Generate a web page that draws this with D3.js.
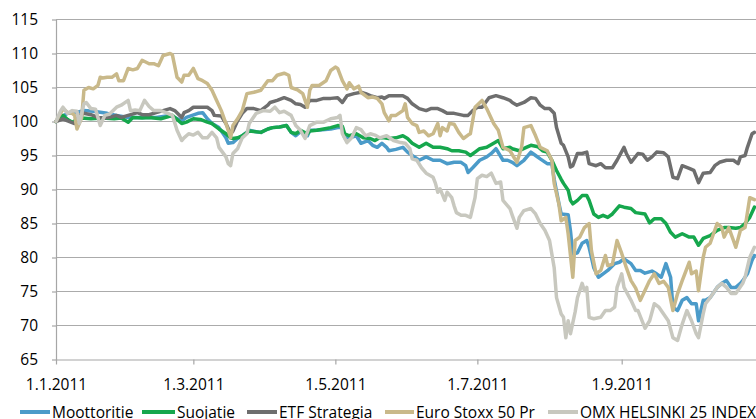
<!DOCTYPE html>
<html><head><meta charset="utf-8">
<script src="https://cdn.jsdelivr.net/npm/d3@7"></script>
<style>body{margin:0;background:#fff}svg{display:block}</style>
</head><body>
<svg id="chart" width="756" height="419"></svg>
<script>
// ---- DATA (day offset from 1.1.2011, index value) ----
const baseDate = "2011-01-01";
const seriesNames = ["Moottoritie","Suojatie","ETF Strategia","Euro Stoxx 50 Pr","OMX HELSINKI 25 INDEX"];

const moottoritie = [[0,100],[3,100.8],[5,101.2],[8,101.3],[12,101.6],[16,101.5],[22,101.2],[26,100.9],[31,100.6],[36,100.6],[43,100.6],[49,100.9],[54,100.1],[56,100.6],[61,101.2],[63,101.3],[65,100.4],[67,99.7],[70,99.1],[73,97.6],[74,96.8],[76,96.9],[78,97.5],[80,97.9],[83,98.7],[86,98.5],[88,98.4],[91,98.9],[93,99.1],[96,99.2],[99,99.4],[101,98.4],[103,97.9],[105,98.5],[108,97.9],[109,98.7],[112,98.7],[118,98.9],[121,99.1],[123,99.1],[124,97.6],[126,97.6],[129,97.9],[131,96.8],[134,97.2],[136,96.5],[138,96.2],[140,96.8],[142,96.2],[143,95.7],[146,95.9],[149,96.2],[151,95.5],[153,95],[156,94.3],[159,94.8],[162,94.3],[165,94.3],[168,93.8],[171,94],[174,94],[176,93.5],[177,92.5],[179,93.2],[182,94.3],[185,94.8],[187,95.3],[189,96],[192,94.3],[194,94.3],[196,94],[198,93.5],[201,94.3],[204,95.5],[206,95],[208,94.5],[211,93.8],[213,93.8],[214,91.5],[216,88],[217,86.4],[220,86.3],[221,83.9],[222,80.5],[224,80.7],[226,82.1],[228,82.5],[229,81.5],[231,78.5],[233,77.1],[235,77.6],[237,78.1],[240,79.1],[242,79.3],[244,79.8],[247,79.1],[249,78.1],[251,78.1],[253,77.7],[256,78],[258,77.6],[260,77.1],[262,79.1],[264,77.1],[265,72.7],[267,72.2],[269,73.7],[271,74.1],[273,73.2],[275,73.2],[276,70.7],[278,73.7],[279,73.7],[281,74.1],[284,75.6],[286,76.2],[288,76.6],[290,75.6],[292,75.6],[294,76.2],[295,76.6],[297,77.6],[299,79.6],[300,80.3]];

const suojatie = [[0,100],[3,100.9],[5,100.3],[7,99.9],[9,100.3],[11,100.5],[15,100.4],[20,100.5],[25,100.4],[28,100.5],[31,99.9],[33,100.6],[37,100.5],[40,100.6],[45,100.4],[48,100.7],[50,100.9],[54,99.7],[56,99.9],[59,100.4],[62,100.3],[65,99.9],[67,99.7],[70,98.9],[73,98.2],[75,97.6],[76,97.5],[78,97.6],[80,97.9],[83,98.6],[88,98.4],[91,98.9],[93,99.1],[96,99.2],[99,99.4],[101,98.4],[103,98.2],[105,98.7],[108,98.2],[109,98.6],[112,98.7],[115,98.9],[118,99.1],[121,99.4],[123,99.3],[124,98.2],[126,97.9],[129,98.2],[132,97.6],[135,97.5],[137,97.2],[139,97.6],[141,97.6],[143,97.5],[146,97.6],[149,97.9],[151,97.5],[153,96.8],[156,96.2],[159,96.8],[162,96.2],[165,96.2],[168,96],[170,95.7],[173,95.7],[176,95.5],[178,95],[180,95.5],[182,96],[185,96.2],[188,96.8],[190,97.2],[192,96],[195,96.2],[196,96],[199,95.7],[202,96.2],[204,96.5],[207,96.3],[209,95.7],[211,95.5],[213,94.3],[215,92.8],[217,91.5],[218,90.9],[220,89.9],[221,88.4],[222,87.9],[224,88.4],[226,89.1],[228,89.1],[229,88.4],[231,86.4],[233,85.9],[235,86.2],[237,85.9],[239,86.4],[242,87.6],[244,87.4],[247,87.2],[249,86.6],[253,86.4],[255,85.1],[257,85.7],[260,85.7],[262,85],[264,83.7],[266,83],[269,83.5],[272,83],[274,83],[276,81.8],[278,82.8],[281,83.2],[284,84],[287,84.4],[289,84.4],[292,84.3],[294,84.4],[296,85],[298,85.9],[300,87.4]];

const etfStrategia = [[0,100],[3,100.4],[5,100.1],[8,99.7],[10,100.9],[12,101.2],[15,101],[18,100.6],[20,100.5],[23,100.6],[26,100.9],[28,100.6],[31,100.9],[35,101.3],[37,101],[40,101],[43,101.3],[46,101.6],[49,101.9],[51,101.6],[54,100.6],[55,101.3],[57,101.6],[59,102.1],[62,102.1],[65,102.1],[67,101.6],[68,100.9],[71,100.8],[73,99.7],[75,98.2],[76,98.6],[78,100.1],[80,101.2],[82,101.9],[85,101.9],[88,101.6],[89,101.9],[91,102.4],[92,102.8],[95,103.1],[98,103.5],[101,103.1],[103,102.6],[105,102.5],[107,102.1],[109,103.1],[112,103.1],[115,103.4],[118,103.4],[121,103.5],[123,102.8],[125,103.8],[128,104.1],[131,104.3],[133,104.1],[135,103.8],[138,103.5],[140,103.6],[141,103.4],[143,103.8],[146,103.8],[149,103.8],[151,103.4],[153,102.6],[156,101.9],[159,101.6],[161,101.9],[164,101.9],[166,101.6],[168,101.2],[171,101.2],[175,100.9],[177,100.9],[179,101.6],[181,102.1],[183,102.1],[186,103.5],[189,103.8],[192,103.5],[195,103.1],[196,102.8],[198,102.4],[201,102.8],[204,103.5],[206,103.4],[208,102.4],[210,101.9],[212,101.9],[214,101.2],[215,99.1],[217,96.8],[218,96.5],[220,94.8],[221,93.3],[222,93.5],[224,95.3],[226,95.3],[228,95.5],[229,93.8],[232,93.5],[234,93.8],[236,93.2],[239,93.2],[241,94.3],[244,96.2],[245,95.3],[247,94],[250,95.3],[252,95.2],[254,94.3],[256,94.8],[258,95.5],[261,95.4],[263,94.8],[265,91.8],[267,91.6],[269,93.5],[272,93.1],[274,92.8],[276,91],[278,92.4],[281,92.5],[283,93.5],[285,94],[288,94.3],[291,94.3],[293,93.8],[294,94.8],[296,95],[297,96.2],[299,98.2],[300,98.4]];

const euroStoxx = [[0,100],[3,101.9],[5,101.3],[7,101.2],[8,100.9],[9,98.9],[11,100.5],[12,104.6],[14,105],[16,104.8],[18,105.3],[19,106.5],[20,106.4],[22,106.5],[24,106.5],[26,107],[27,106],[29,106],[31,107.8],[33,107.6],[35,107.8],[37,109],[40,108.5],[42,108.5],[44,108.2],[46,109.7],[49,110],[50,109.8],[52,106.5],[54,105.8],[55,106.8],[57,106.8],[59,107.8],[61,106.3],[63,106],[65,105.6],[67,104.6],[69,103.1],[71,101.6],[73,99.7],[75,97.6],[76,99.4],[78,100.4],[80,101.6],[82,104.1],[85,104.3],[88,104.6],[91,106],[93,106],[95,106.8],[98,107.1],[100,106.8],[101,105],[104,104.6],[106,104.1],[107,103.1],[108,102.1],[109,104.6],[110,105.3],[113,105.3],[116,106],[118,107.5],[120,108],[121,107.8],[123,106],[125,104.8],[126,105.7],[128,104.8],[130,105.2],[131,104.3],[134,103.5],[136,103.6],[138,103.4],[140,102.6],[141,101.3],[143,100.1],[144,100.9],[146,100.9],[149,101.6],[150,102.6],[151,100.6],[153,99.7],[155,99.4],[156,98.4],[158,98.6],[160,97.9],[162,98.2],[164,99.7],[165,97.9],[166,99.1],[168,98.6],[169,99.7],[171,99.6],[173,98.4],[175,97.5],[177,98],[178,98.2],[180,102.1],[183,103.1],[185,101.9],[188,99.7],[190,98.7],[192,96.2],[195,95.7],[198,94],[200,96.2],[201,99.1],[204,99.4],[206,97.9],[208,96.2],[211,95.7],[213,94.3],[214,90.9],[216,87.9],[217,85.4],[219,85.9],[220,83.5],[222,77.1],[223,82.5],[225,83],[227,84.4],[229,85],[230,81],[232,77.6],[234,78.1],[236,80.3],[237,78.8],[239,79],[241,82.5],[243,80.6],[245,78.5],[247,76.6],[249,75.5],[251,73.7],[255,76.6],[257,77.6],[259,76.2],[261,76.5],[263,75.6],[265,72.2],[267,74.7],[269,76.6],[272,79.3],[273,77.6],[275,78],[276,75.1],[278,80],[279,81.5],[281,82.1],[284,85],[286,84.4],[287,83],[289,84.4],[291,82.5],[292,81.5],[294,84],[296,84.4],[298,88.8],[300,88.5]];

const omxHelsinki = [[0,100],[2,101.6],[3,102.1],[5,101.2],[7,101.6],[9,101.5],[10,99.7],[12,102.6],[13,102.8],[15,101.9],[17,101.8],[19,99.4],[21,100.9],[23,101.1],[26,102.1],[28,102.4],[31,103.1],[32,101.6],[34,101.7],[36,101.6],[38,103.1],[40,102.2],[42,101.6],[45,101.6],[48,101.2],[50,100.9],[52,98.7],[54,97.2],[55,97.6],[57,98.2],[59,98],[61,98.4],[63,97.6],[65,97.6],[67,98.4],[69,97.6],[70,96.2],[73,94.8],[74,93.8],[75,93.5],[76,95.3],[78,96],[80,97.6],[82,98.2],[83,99.7],[86,101.2],[89,101.6],[92,101.5],[94,102.1],[96,101.3],[98,101.5],[101,100.9],[103,99.4],[105,98.7],[107,97.5],[109,99.4],[112,99.9],[115,99.9],[118,100.4],[121,100.6],[122,100.9],[123,98.2],[125,96.9],[127,97.6],[129,99.1],[131,98.8],[133,97.9],[135,98.2],[137,98],[139,97.6],[142,97.9],[145,97.2],[148,96.9],[150,96.8],[152,96],[153,94.5],[155,94.3],[157,93.2],[159,92.4],[162,91.8],[163,90.9],[164,89.6],[165,90.1],[167,88.4],[168,89.6],[170,88.8],[171,87.6],[172,86.6],[174,86.2],[176,86.2],[178,85.9],[180,88.8],[181,91.6],[183,92.1],[185,91.9],[187,92.4],[189,90.9],[191,91.1],[192,88.4],[195,87.2],[196,86.2],[198,84.3],[199,85.9],[201,86.9],[204,87.2],[206,86.4],[208,85],[210,84],[212,82.5],[214,78.5],[215,74.1],[217,71.7],[218,71.2],[219,68.2],[220,70.7],[221,68.8],[223,72],[224,74.1],[226,76.2],[227,75.1],[228,75.6],[229,71.2],[231,71],[234,71.2],[236,72.2],[238,72.2],[240,72.7],[241,75.6],[243,77.6],[244,75.6],[247,73.7],[249,72.2],[250,72.2],[253,69.6],[255,70.7],[257,73.2],[259,72.7],[261,71.7],[263,70.7],[265,68.2],[267,67.8],[269,70.2],[271,72.2],[273,70.7],[275,68.8],[276,68.2],[278,71.7],[279,73.2],[281,74.1],[284,75.6],[286,76.2],[288,75.6],[290,74.7],[292,74.7],[295,76.2],[296,77.1],[298,80],[300,81.5]];

const xTickDates = ["2011-01-01","2011-03-01","2011-05-01","2011-07-01","2011-09-01"];
const xTickLabels = ["1.1.2011","1.3.2011","1.5.2011","1.7.2011","1.9.2011"];
const yTicks = [65,70,75,80,85,90,95,100,105,110,115];

// ---- STYLE / LAYOUT ----
const seriesColors = ["#4b9bc9","#16a74d","#6e6e6e","#c9b98a","#c8c8bf"];
const allSeries = [moottoritie, suojatie, etfStrategia, euroStoxx, omxHelsinki];
const legendLineX = [20, 142, 247, 385, 548];
const legendTextX = [52, 177, 279, 416, 580];
const FONT = "'Open Sans', 'Liberation Sans', sans-serif";

const svg = d3.select("#chart");
const plotLeft = 56, plotTop = 19.5, plotBottom = 359.5, plotRight = 756;
const parseDate = d3.utcParse("%Y-%m-%d");
const base = parseDate(baseDate);
const toDate = d => new Date(base.getTime() + d * 864e5);

const x = d3.scaleUtc().domain([parseDate("2011-01-01"), parseDate("2011-09-01")]).range([plotLeft, 621.7]);
const y = d3.scaleLinear().domain([65, 115]).range([plotBottom, plotTop]);

// gridlines
svg.append("g").selectAll("line").data(yTicks.filter(v => v !== 65)).join("line")
  .attr("x1", plotLeft).attr("x2", plotRight)
  .attr("y1", d => y(d)).attr("y2", d => y(d))
  .attr("stroke", "#ababab").attr("stroke-width", 1.2);

// y axis
const yAxis = svg.append("g").attr("transform", `translate(${plotLeft},0)`)
  .call(d3.axisLeft(y).tickValues(yTicks).tickSize(4).tickPadding(14).tickSizeOuter(0));
yAxis.select(".domain").attr("stroke", "#a6a6a6").attr("stroke-width", 1.2);
yAxis.selectAll(".tick line").attr("stroke", "#a6a6a6").attr("stroke-width", 1.2);
yAxis.selectAll("text").attr("font-family", FONT).attr("font-size", 15.5).attr("fill", "#000");

// x axis
const xAxis = svg.append("g").attr("transform", `translate(0,${plotBottom})`)
  .call(d3.axisBottom(x).tickValues(xTickDates.map(parseDate))
    .tickFormat((d, i) => xTickLabels[i]).tickSize(5).tickSizeOuter(0));
xAxis.select(".domain").attr("d", `M${plotLeft},0.5H${plotRight}`).attr("stroke", "#a6a6a6").attr("stroke-width", 1.2);
xAxis.selectAll(".tick line").attr("stroke", "#a6a6a6").attr("stroke-width", 1.2);
xAxis.selectAll("text").attr("dy", null).attr("y", 30)
  .attr("font-family", FONT).attr("font-size", 15.5).attr("fill", "#000");

// lines
const line = d3.line().x(d => x(toDate(d[0]))).y(d => y(d[1]));
svg.append("g").selectAll("path").data(allSeries).join("path")
  .attr("d", line).attr("fill", "none")
  .attr("stroke", (d, i) => seriesColors[i]).attr("stroke-width", 3.5)
  .attr("stroke-linejoin", "round").attr("stroke-linecap", "round");

// legend
const lg = svg.append("g").selectAll("g").data(seriesNames).join("g");
lg.append("line")
  .attr("x1", (d, i) => legendLineX[i]).attr("x2", (d, i) => legendTextX[i] - 2)
  .attr("y1", 412).attr("y2", 412)
  .attr("stroke", (d, i) => seriesColors[i]).attr("stroke-width", 4);
lg.append("text").attr("x", (d, i) => legendTextX[i]).attr("y", 418)
  .attr("font-family", FONT).attr("font-size", 15.5).attr("fill", "#000")
  .text(d => d);
</script>
</body></html>
